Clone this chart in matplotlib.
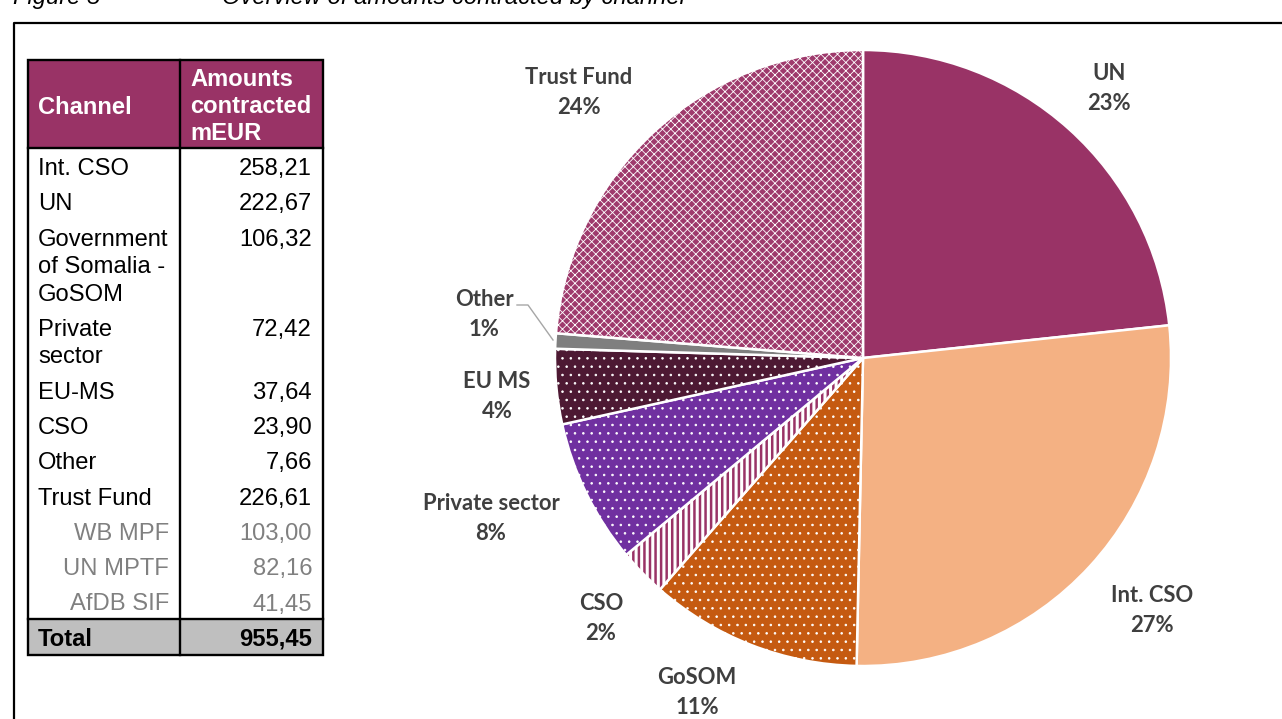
import matplotlib.pyplot as plt
from matplotlib.patches import Rectangle

# Table data (mEUR)
table_channels = ["Int. CSO", "UN", "Government\nof Somalia -\nGoSOM", "Private\nsector",
                  "EU-MS", "CSO", "Other", "Trust Fund", "WB MPF", "UN MPTF", "AfDB SIF"]
table_amounts = [258.21, 222.67, 106.32, 72.42, 37.64, 23.90, 7.66, 226.61, 103.00, 82.16, 41.45]
table_subrow = [False] * 8 + [True] * 3
table_total = 955.45

# Pie data, clockwise from 12 o'clock
pie_labels = ["UN", "Int. CSO", "GoSOM", "CSO", "Private sector", "EU MS", "Other", "Trust Fund"]
pie_values = [222.67, 258.21, 106.32, 23.90, 72.42, 37.64, 7.66, 226.61]
pie_pct = ["23%", "27%", "11%", "2%", "8%", "4%", "1%", "24%"]

# wedge styles: face colour, hatch, hatch line width
styles = [
    ("#993366", None, 1.0),
    ("#F4B183", None, 1.0),
    ("#C55A11", "..", 0.6),
    ("#993366", "|||", 2.2),
    ("#7030A0", "..", 0.6),
    ("#4D1933", "..", 0.6),
    ("#7F7F7F", None, 1.0),
    ("#9E3A6C", "xxxx", 0.6),
]
# label anchors in pixels (x, y of first line)
label_pos = [(1109, 74), (1152, 596), (697, 677), (601, 604),
             (491, 504), (497, 381), (484, 300), (579, 77)]

W, H = 1282, 719
PT = 0.72  # points per pixel at 100 dpi

fig = plt.figure(figsize=(W / 100, H / 100), dpi=100)
ax = fig.add_axes([0, 0, 1, 1])

# ---- pie ----
cx, cy, R = 863, 358, 308
wedges, _ = ax.pie(pie_values, center=(cx, cy), radius=R, startangle=-90, counterclock=True,
                   wedgeprops=dict(edgecolor="white", linewidth=1.8))
for w, (fc, hatch, hlw) in zip(wedges, styles):
    w.set_facecolor(fc)
    if hatch:
        w.set_hatch(hatch)
        if hasattr(w, "set_hatch_linewidth"):
            w.set_hatch_linewidth(hlw)

ax.set_xlim(0, W)
ax.set_ylim(H, 0)
ax.set_aspect("equal")
ax.axis("off")

lab_fs = 22 * PT
for name, pct, (x, y) in zip(pie_labels, pie_pct, label_pos):
    ax.text(x, y, name, ha="center", va="center", fontsize=lab_fs,
            family="Lato", weight="bold", color="#3F3F3F")
    ax.text(x, y + 30, pct, ha="center", va="center", fontsize=lab_fs,
            family="Lato", weight="bold", color="#3F3F3F")

# leader line for the small "Other" slice
ax.plot([517, 528, 553], [305, 305, 340], color="#A6A6A6", lw=1.0)

# ---- table ----
tl, tr, tdiv = 28, 323, 180
top, head_bot = 60, 148
fs = 23.8 * PT
line_h, row_gap = 27.5, 35.3

ax.add_patch(Rectangle((tl, top), tr - tl, head_bot - top, facecolor="#993366", edgecolor="none"))
ax.text(38, 107, "Channel", ha="left", va="center", fontsize=fs, family="Liberation Sans",
        weight="bold", color="white")
for i, t in enumerate(["Amounts", "contracted", "mEUR"]):
    ax.text(190, 80 + i * 26.5, t, ha="left", va="center", fontsize=fs,
            family="Liberation Sans", weight="bold", color="white")

y = 169
for name, amt, sub in zip(table_channels, table_amounts, table_subrow):
    col = "#808080" if sub else "black"
    val = f"{amt:.2f}".replace(".", ",")
    lines = name.split("\n")
    for j, ln in enumerate(lines):
        if sub:
            ax.text(169, y + j * line_h, ln, ha="right", va="center", fontsize=fs,
                    family="Liberation Sans", color=col)
        else:
            ax.text(38, y + j * line_h, ln, ha="left", va="center", fontsize=fs,
                    family="Liberation Sans", color=col)
    ax.text(312, y, val, ha="right", va="center", fontsize=fs,
            family="Liberation Sans", color=col)
    y += row_gap + line_h * (len(lines) - 1)

tot_top, tot_bot = 619, 655
ax.add_patch(Rectangle((tl, tot_top), tr - tl, tot_bot - tot_top, facecolor="#BFBFBF", edgecolor="none"))
ax.text(38, 639, "Total", ha="left", va="center", fontsize=fs, family="Liberation Sans",
        weight="bold", color="black")
ax.text(312, 639, f"{table_total:.2f}".replace(".", ","), ha="right", va="center",
        fontsize=fs, family="Liberation Sans", weight="bold", color="black")

lw = 1.7
ax.add_patch(Rectangle((tl, top), tr - tl, tot_bot - top, facecolor="none", edgecolor="black", lw=lw))
ax.plot([tdiv, tdiv], [top, tot_bot], color="black", lw=lw)
ax.plot([tl, tr], [head_bot, head_bot], color="black", lw=lw)
ax.plot([tl, tr], [tot_top, tot_top], color="black", lw=lw)

# ---- outer frame and caption ----
ax.plot([14, 14, W + 5], [H + 5, 23, 23], color="black", lw=1.6, clip_on=False)
ax.text(13, 4, "Figure 5", ha="left", va="baseline", fontsize=fs, family="Liberation Sans",
        style="italic", color="black", clip_on=False)
ax.text(222, 4, "Overview of amounts contracted by channel", ha="left", va="baseline",
        fontsize=fs, family="Liberation Sans", style="italic", color="black", clip_on=False)

fig.savefig("out.png", dpi=100)
